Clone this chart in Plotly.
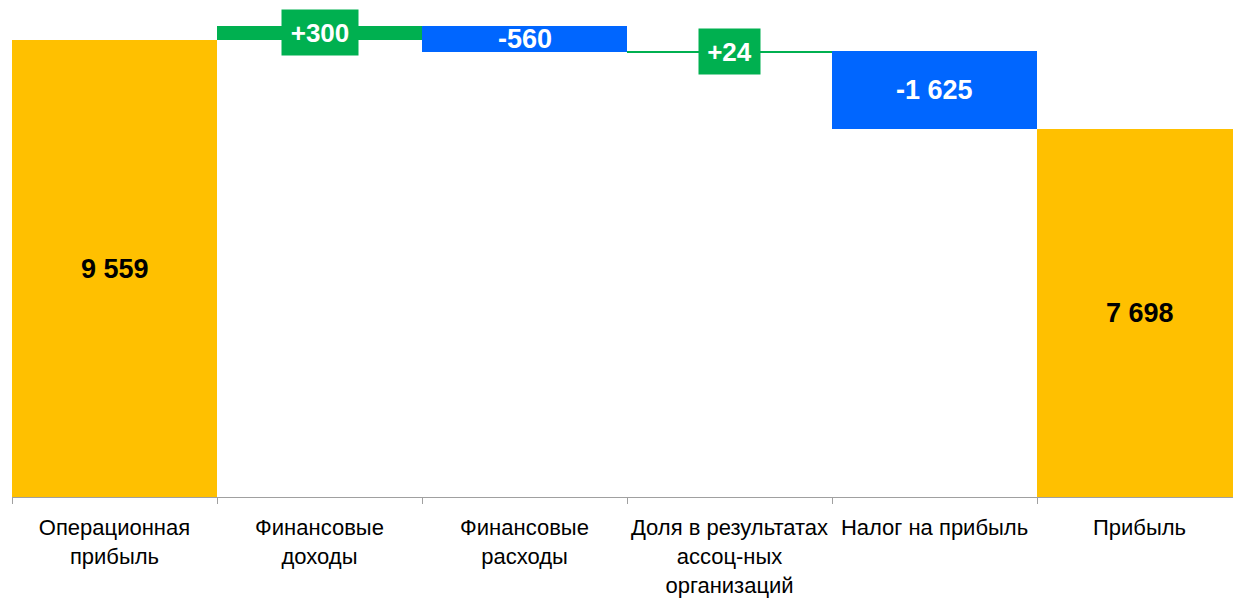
import plotly.graph_objects as go

categories = ["Операционная<br>прибыль", "Финансовые<br>доходы", "Финансовые<br>расходы",
              "Доля в результатах<br>ассоц-ных<br>организаций", "Налог на прибыль", "Прибыль"]
values = [9559, 300, -560, 24, -1625, 7698]
kinds = ["total", "delta", "delta", "delta", "delta", "total"]

YELLOW = "#FFC000"
GREEN = "#00B050"
BLUE = "#0066FF"

def fmt(v, signed):
    s = f"{abs(v):,}".replace(",", " ")
    if v < 0:
        return "-" + s
    return ("+" + s) if signed else s

bases, lengths, colors = [], [], []
running = 0
for v, k in zip(values, kinds):
    if k == "total":
        bases.append(0)
        lengths.append(v)
        colors.append(YELLOW)
        running = v
    else:
        bases.append(running)
        lengths.append(v)
        colors.append(GREEN if v > 0 else BLUE)
        running += v

fig = go.Figure()
fig.add_trace(go.Bar(x=categories, y=lengths, base=bases,
                     marker=dict(color=colors, line=dict(width=0)),
                     hoverinfo="skip", width=1.0))

FONT = "Liberation Sans, Arial, sans-serif"
annotations = []
for i, (v, k, b) in enumerate(zip(values, kinds, bases)):
    mid = b + v / 2
    if k == "total":
        annotations.append(dict(x=i, y=mid, text=fmt(v, False), showarrow=False,
                                font=dict(family=FONT, size=27, color="#000000", weight="bold")))
    elif v < 0:
        annotations.append(dict(x=i, y=mid, text=fmt(v, True), showarrow=False,
                                font=dict(family=FONT, size=27, color="#FFFFFF", weight="bold")))
    else:
        w = 76 if abs(v) >= 100 else 61
        annotations.append(dict(x=i, y=mid, text=fmt(v, True), showarrow=False,
                                bgcolor=GREEN, width=w, height=45, borderpad=0,
                                font=dict(family=FONT, size=26, color="#FFFFFF", weight="bold")))

PX_PER_UNIT = 457 / 9559
PLOT_BOTTOM = 497

fig.update_layout(
    width=1233, height=603,
    margin=dict(l=12, r=0, t=0, b=603 - PLOT_BOTTOM, autoexpand=False),
    paper_bgcolor="white", plot_bgcolor="white",
    showlegend=False, bargap=0,
    annotations=annotations,
    xaxis=dict(type="category", range=[-0.5, 5.5 - 9 / 205], tickson="boundaries", ticks="outside",
               ticklen=6, tickcolor="#A0A0A0", tickwidth=1, ticklabelstandoff=11, tickangle=0,
               showline=True, linecolor="#A0A0A0", linewidth=1,
               showgrid=False, zeroline=False, automargin=False,
               tickfont=dict(family=FONT, size=22, color="#000000")),
    yaxis=dict(visible=False, range=[0, PLOT_BOTTOM / PX_PER_UNIT], fixedrange=True),
)

fig.write_html("out.html", config={"displayModeBar": False},
               post_script="document.body.style.margin='0px';document.body.style.overflow='hidden';")
